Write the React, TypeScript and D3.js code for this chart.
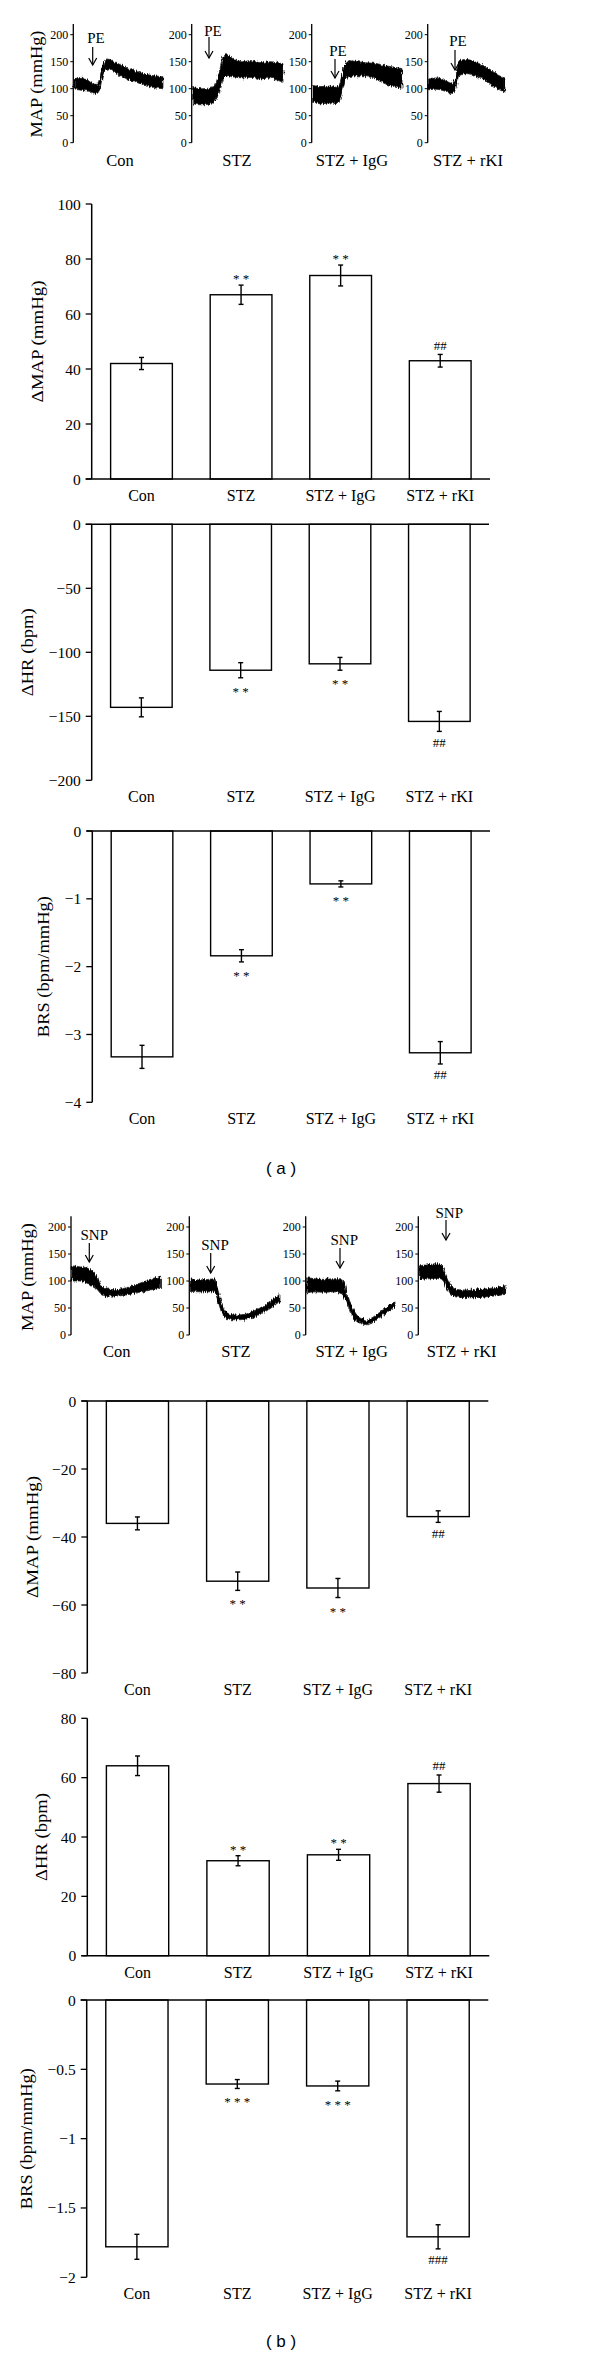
import * as d3 from "d3";

const groups = ["Con", "STZ", "STZ + IgG", "STZ + rKI"];
const traceTicks = [0, 50, 100, 150, 200];

// --- raw MAP recordings (t = fraction of trace width, mmHg band) ---
const peConT = [0, 0.08, 0.15, 0.2, 0.25, 0.28, 0.32, 0.36, 0.4, 0.45, 0.5, 0.6, 0.7, 0.8, 0.9, 1];
const peConLo = [100, 97, 96, 93, 91, 96, 122, 136, 137, 132, 126, 118, 112, 106, 102, 100];
const peConHi = [118, 121, 116, 110, 108, 116, 143, 155, 154, 150, 146, 138, 132, 127, 124, 122];

const peStzT = [0, 0.1, 0.2, 0.25, 0.3, 0.34, 0.38, 0.45, 0.55, 0.65, 0.75, 0.85, 0.95, 1];
const peStzLo = [72, 70, 72, 78, 95, 118, 124, 122, 120, 121, 118, 120, 115, 112];
const peStzHi = [102, 100, 101, 108, 135, 160, 163, 155, 150, 152, 148, 150, 148, 146];

const peIggT = [0, 0.1, 0.2, 0.27, 0.31, 0.35, 0.4, 0.5, 0.6, 0.7, 0.8, 0.9, 1];
const peIggLo = [76, 72, 74, 72, 82, 108, 122, 124, 124, 118, 110, 104, 100];
const peIggHi = [106, 104, 105, 102, 112, 140, 152, 150, 148, 147, 143, 140, 137];

const peRkiT = [0, 0.1, 0.2, 0.3, 0.35, 0.4, 0.5, 0.6, 0.7, 0.8, 0.9, 1];
const peRkiLo = [98, 99, 96, 91, 98, 124, 128, 124, 118, 110, 100, 94];
const peRkiHi = [118, 120, 117, 110, 120, 152, 154, 150, 144, 136, 126, 119];

const snpConT = [0, 0.1, 0.17, 0.23, 0.28, 0.33, 0.4, 0.5, 0.6, 0.7, 0.8, 0.9, 1];
const snpConLo = [100, 100, 96, 92, 85, 76, 72, 72, 74, 77, 80, 84, 88];
const snpConHi = [128, 126, 124, 118, 108, 92, 85, 84, 87, 92, 98, 104, 109];

const snpStzT = [0, 0.1, 0.2, 0.27, 0.31, 0.36, 0.42, 0.5, 0.6, 0.7, 0.8, 0.9, 1];
const snpStzLo = [81, 80, 80, 80, 62, 38, 30, 28, 29, 33, 40, 50, 62];
const snpStzHi = [104, 102, 103, 104, 82, 54, 40, 37, 38, 44, 52, 64, 76];

const snpIggT = [0, 0.1, 0.2, 0.3, 0.4, 0.45, 0.52, 0.6, 0.68, 0.76, 0.85, 1];
const snpIggLo = [78, 80, 79, 80, 76, 62, 34, 22, 19, 24, 35, 53];
const snpIggHi = [106, 104, 103, 104, 104, 80, 50, 32, 28, 34, 45, 62];

const snpRkiT = [0, 0.1, 0.2, 0.27, 0.32, 0.38, 0.45, 0.6, 0.75, 0.9, 1];
const snpRkiLo = [103, 104, 105, 102, 88, 74, 70, 69, 70, 73, 75];
const snpRkiHi = [128, 130, 132, 128, 108, 90, 84, 83, 85, 88, 91];

// --- summary bars (mean, SEM, significance marks) ---
const peMap = [42, 67, 74, 43];
const peMapErr = [2.2, 3.5, 3.8, 2.3];
const peMapMarks = ["", "* *", "* *", "##"];

const peHr = [-143, -114, -109, -154];
const peHrErr = [7.4, 5.9, 5.0, 7.8];
const peHrMarks = ["", "* *", "* *", "##"];

const peBrs = [-3.33, -1.84, -0.78, -3.27];
const peBrsErr = [0.17, 0.09, 0.045, 0.165];
const peBrsMarks = ["", "* *", "* *", "##"];

const snpMap = [-36, -53, -55, -34];
const snpMapErr = [1.9, 2.7, 2.8, 1.7];
const snpMapMarks = ["", "* *", "* *", "##"];

const snpHr = [64, 32, 34, 58];
const snpHrErr = [3.3, 1.7, 1.85, 2.9];
const snpHrMarks = ["", "* *", "* *", "##"];

const snpBrs = [-1.78, -0.606, -0.62, -1.708];
const snpBrsErr = [0.09, 0.032, 0.035, 0.087];
const snpBrsMarks = ["", "* * *", "* * *", "###"];

const serif = "'Liberation Serif', 'Times New Roman', serif";
const fmt = d3.format("~g");

function TracePanel(props: any) {
    const { t, lo, hi, axisX, x1, yBase, label, labelX, labelY, stim, stimX, stimY, arrowX, arrowTop, arrowTip } = props;
    const y = d3.scaleLinear().domain([0, 200]).range([yBase, yBase - 108]);
    const x = d3.scaleLinear().domain([0, 1]).range([axisX + 1, x1]);
    const idx = d3.range(t.length);
    const area = d3.area<number>()
        .x(i => x(t[i]))
        .y0(i => y(lo[i]))
        .y1(i => y(hi[i]))
        .curve(d3.curveMonotoneX);

    return (
        <g>
            {/* the recording is a noisy band: roughen its edges */}
            <path d={area(idx) ?? ""} fill="#000" stroke="#222" strokeWidth={0.8} filter="url(#rough)" />
            <line x1={axisX} x2={axisX} y1={y(0)} y2={y(220)} stroke="#000" strokeWidth={1.3} />
            {traceTicks.map(v => (
                <g key={v}>
                    <line x1={axisX - 3} x2={axisX} y1={y(v)} y2={y(v)} stroke="#000" strokeWidth={1} />
                    <text x={axisX - 5} y={y(v)} textAnchor="end" dominantBaseline="central"
                        fontSize={12} fontFamily={serif}>{v}</text>
                </g>
            ))}
            <text x={labelX} y={labelY} textAnchor="middle" dominantBaseline="central"
                fontSize={16.5} fontFamily={serif}>{label}</text>
            <text x={stimX} y={stimY} textAnchor="middle" dominantBaseline="central"
                fontSize={15} fontFamily={serif}>{stim}</text>
            <line x1={arrowX} x2={arrowX} y1={arrowTop} y2={arrowTip} stroke="#000" strokeWidth={1.2} />
            <path d={`M${arrowX - 4},${arrowTip - 7} L${arrowX},${arrowTip} L${arrowX + 4},${arrowTip - 7}`}
                fill="none" stroke="#000" strokeWidth={1.2} />
        </g>
    );
}

function BarPanel(props: any) {
    const { values, errors, marks, domain, ticks, yLo, yHi, axisX, axisEnd, label, labelX, labelLen } = props;
    const y = d3.scaleLinear().domain(domain).range([yLo, yHi]);
    const x = d3.scaleBand<string>().domain(groups).range([axisX, axisEnd]).paddingInner(0.38).paddingOuter(0.19);
    const bw = x.bandwidth();
    const yTop = y(domain[1]);
    const yBot = y(domain[0]);

    return (
        <g fontFamily={serif}>
            {groups.map((g, i) => {
                const v = values[i];
                const e = errors[i];
                const cx = (x(g) ?? 0) + bw / 2;
                const top = Math.min(y(v), y(0));
                const h = Math.abs(y(v) - y(0));
                const yErrHi = y(v + e);
                const yErrLo = y(v - e);
                const outer = v >= 0 ? yErrHi : yErrLo;
                const isHash = marks[i].includes("#");
                const markY = v >= 0
                    ? outer - 9 + (isHash ? 4.5 : 7)
                    : outer + 11 + (isHash ? 4.5 : 7);
                return (
                    <g key={g}>
                        <rect x={x(g)} y={top} width={bw} height={h} fill="#fff" stroke="#000" strokeWidth={1.4} />
                        <line x1={cx} x2={cx} y1={yErrHi} y2={yErrLo} stroke="#000" strokeWidth={1.4} />
                        <line x1={cx - 2.5} x2={cx + 2.5} y1={yErrHi} y2={yErrHi} stroke="#000" strokeWidth={1.4} />
                        <line x1={cx - 2.5} x2={cx + 2.5} y1={yErrLo} y2={yErrLo} stroke="#000" strokeWidth={1.4} />
                        {marks[i] && (
                            <text x={cx} y={markY} textAnchor="middle" fontSize={13}>{marks[i]}</text>
                        )}
                        <text x={cx} y={yBot + 16.5} textAnchor="middle" dominantBaseline="central"
                            fontSize={16}>{g}</text>
                    </g>
                );
            })}
            <line x1={axisX} x2={axisX} y1={yTop} y2={yBot} stroke="#000" strokeWidth={1.5} />
            <line x1={axisX - 6} x2={axisEnd} y1={y(0)} y2={y(0)} stroke="#000" strokeWidth={1.5} />
            {ticks.map((v: number) => (
                <g key={v}>
                    <line x1={axisX - 6} x2={axisX} y1={y(v)} y2={y(v)} stroke="#000" strokeWidth={1.3} />
                    <text x={axisX - 11} y={y(v)} textAnchor="end" dominantBaseline="central"
                        fontSize={15.5}>{fmt(v)}</text>
                </g>
            ))}
            <text transform={`translate(${labelX},${(yTop + yBot) / 2}) rotate(-90)`} textAnchor="middle"
                dominantBaseline="central" fontSize={16.5} textLength={labelLen}
                lengthAdjust="spacingAndGlyphs">{label}</text>
        </g>
    );
}

export default function App() {
    return (
        <div style={{ position: "absolute", left: 0, top: 0 }}>
            <svg width={600} height={2357} style={{ display: "block", background: "#fff" }}>
                <defs>
                    <filter id="rough" x="-5%" y="-30%" width="110%" height="160%">
                        <feTurbulence type="fractalNoise" baseFrequency="0.9 0.12" numOctaves={2} seed={4} result="n" />
                        <feDisplacementMap in="SourceGraphic" in2="n" scale={5} xChannelSelector="R" yChannelSelector="G" />
                    </filter>
                </defs>
                <rect width={600} height={2357} fill="#fff" />

                {/* (a) PE */}
                <text transform="translate(35.5,84) rotate(-90)" textAnchor="middle" dominantBaseline="central"
                    fontSize={17.5} fontFamily={serif} textLength={107} lengthAdjust="spacingAndGlyphs">MAP (mmHg)</text>
                <TracePanel t={peConT} lo={peConLo} hi={peConHi} axisX={73.3} x1={163} yBase={142.7}
                    label="Con" labelX={120} labelY={160} stim="PE" stimX={96} stimY={38}
                    arrowX={92.7} arrowTop={47} arrowTip={65} />
                <TracePanel t={peStzT} lo={peStzLo} hi={peStzHi} axisX={191.7} x1={283} yBase={142.7}
                    label="STZ" labelX={237} labelY={160} stim="PE" stimX={213} stimY={31}
                    arrowX={209} arrowTop={37} arrowTip={58} />
                <TracePanel t={peIggT} lo={peIggLo} hi={peIggHi} axisX={311.7} x1={402} yBase={142.7}
                    label="STZ + IgG" labelX={352} labelY={160} stim="PE" stimX={338} stimY={51}
                    arrowX={335} arrowTop={59} arrowTip={78} />
                <TracePanel t={peRkiT} lo={peRkiLo} hi={peRkiHi} axisX={427.7} x1={505} yBase={142.7}
                    label="STZ + rKI" labelX={468} labelY={160} stim="PE" stimX={458} stimY={41}
                    arrowX={455} arrowTop={50} arrowTip={70} />

                <BarPanel values={peMap} errors={peMapErr} marks={peMapMarks} domain={[0, 100]}
                    ticks={[0, 20, 40, 60, 80, 100]} yLo={479} yHi={204} axisX={91.7} axisEnd={490}
                    label="ΔMAP (mmHg)" labelX={37.5} labelLen={122} />
                <BarPanel values={peHr} errors={peHrErr} marks={peHrMarks} domain={[-200, 0]}
                    ticks={[0, -50, -100, -150, -200]} yLo={780.3} yHi={524.3} axisX={91.7} axisEnd={489}
                    label="ΔHR (bpm)" labelX={27} labelLen={88} />
                <BarPanel values={peBrs} errors={peBrsErr} marks={peBrsMarks} domain={[-4, 0]}
                    ticks={[0, -1, -2, -3, -4]} yLo={1102.3} yHi={831} axisX={92.3} axisEnd={490}
                    label="BRS (bpm/mmHg)" labelX={43.3} labelLen={141} />

                <text x={281} y={1168} textAnchor="middle" dominantBaseline="central" fontSize={17}
                    fontFamily="'Liberation Sans', Arial, sans-serif">( a )</text>

                {/* (b) SNP */}
                <text transform="translate(27,1277) rotate(-90)" textAnchor="middle" dominantBaseline="central"
                    fontSize={17.5} fontFamily={serif} textLength={108} lengthAdjust="spacingAndGlyphs">MAP (mmHg)</text>
                <TracePanel t={snpConT} lo={snpConLo} hi={snpConHi} axisX={71} x1={160.7} yBase={1335}
                    label="Con" labelX={116.7} labelY={1351.7} stim="SNP" stimX={94.3} stimY={1235}
                    arrowX={89.3} arrowTop={1243} arrowTip={1262} />
                <TracePanel t={snpStzT} lo={snpStzLo} hi={snpStzHi} axisX={189.3} x1={280} yBase={1335}
                    label="STZ" labelX={236} labelY={1351.7} stim="SNP" stimX={215} stimY={1245}
                    arrowX={210.7} arrowTop={1253} arrowTip={1273} />
                <TracePanel t={snpIggT} lo={snpIggLo} hi={snpIggHi} axisX={305.7} x1={395} yBase={1335}
                    label="STZ + IgG" labelX={351.7} labelY={1351.7} stim="SNP" stimX={344.3} stimY={1240}
                    arrowX={340} arrowTop={1248} arrowTip={1268} />
                <TracePanel t={snpRkiT} lo={snpRkiLo} hi={snpRkiHi} axisX={418.3} x1={505} yBase={1335}
                    label="STZ + rKI" labelX={461.7} labelY={1351.7} stim="SNP" stimX={449.3} stimY={1212.7}
                    arrowX={446} arrowTop={1220} arrowTip={1240} />

                <BarPanel values={snpMap} errors={snpMapErr} marks={snpMapMarks} domain={[-80, 0]}
                    ticks={[0, -20, -40, -60, -80]} yLo={1673} yHi={1401} axisX={87.3} axisEnd={488.3}
                    label="ΔMAP (mmHg)" labelX={32.5} labelLen={122} />
                <BarPanel values={snpHr} errors={snpHrErr} marks={snpHrMarks} domain={[0, 80]}
                    ticks={[0, 20, 40, 60, 80]} yLo={1955.7} yHi={1718.3} axisX={87.3} axisEnd={489.3}
                    label="ΔHR (bpm)" labelX={41.7} labelLen={88} />
                <BarPanel values={snpBrs} errors={snpBrsErr} marks={snpBrsMarks} domain={[-2, 0]}
                    ticks={[0, -0.5, -1, -1.5, -2]} yLo={2277.3} yHi={2000} axisX={86.7} axisEnd={488.3}
                    label="BRS (bpm/mmHg)" labelX={26.7} labelLen={141} />

                <text x={281} y={2341.7} textAnchor="middle" dominantBaseline="central" fontSize={17}
                    fontFamily="'Liberation Sans', Arial, sans-serif">( b )</text>
            </svg>
        </div>
    );
}
